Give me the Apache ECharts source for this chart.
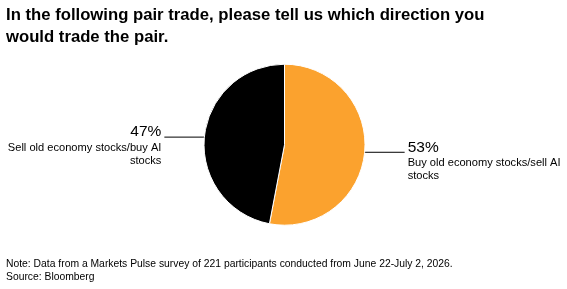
<!DOCTYPE html>
<html><head><meta charset="utf-8">
<script src="https://cdn.jsdelivr.net/npm/echarts@6/dist/echarts.min.js"></script>
<style>html,body{margin:0;padding:0;background:#fff}#c{width:567px;height:289px}</style>
</head><body><div id="c"></div>
<script>
const titleLines = ['In the following pair trade, please tell us which direction you', 'would trade the pair.'];
const categories = ['Buy old economy stocks/sell AI\nstocks', 'Sell old economy stocks/buy AI\nstocks'];
const values = [53, 47];
const colors = ['#FBA22E', '#000000'];
const footnotes = ['Note: Data from a Markets Pulse survey of 221 participants conducted from June 22-July 2, 2026.', 'Source: Bloomberg'];

const chart = echarts.init(document.getElementById('c'), null, {renderer: 'canvas'});
const font = '"Liberation Sans", Arial, sans-serif';
chart.setOption({
  animation: false,
  title: [{
    text: titleLines.join('\n'),
    left: 6, top: 4, padding: 0,
    textStyle: {fontFamily: font, fontWeight: 'bold', fontSize: 16.7, lineHeight: 22, color: '#000'}
  }, {
    text: footnotes.join('\n'),
    left: 6, top: 258, padding: 0,
    textStyle: {fontFamily: font, fontWeight: 'normal', fontSize: 10.35, lineHeight: 13, color: '#000'}
  }],
  series: [{
    type: 'pie',
    center: [284.5, 144.7],
    radius: 80.5,
    startAngle: 90,
    clockwise: true,
    itemStyle: {borderColor: '#fff', borderWidth: 1},
    label: {
      show: true,
      position: 'outside',
      overflow: 'none',
      distanceToLabelLine: 3,
      padding: [16, 0, 0, 0],
      fontFamily: font,
      formatter: p => '{p|' + p.value + '%}\n{n|' + p.name.split('\n').join('}\n{n|') + '}',
      rich: {
        p: {fontFamily: font, fontSize: 15.5, lineHeight: 18, color: '#000'},
        n: {fontFamily: font, fontSize: 11.1, lineHeight: 13, color: '#000'}
      }
    },
    labelLine: {show: true, length: 0, length2: 40, smooth: false, lineStyle: {color: '#000', width: 1}},
    data: categories.map((c, i) => ({name: c, value: values[i], itemStyle: {color: colors[i]}}))
  }]
});
</script></body></html>
